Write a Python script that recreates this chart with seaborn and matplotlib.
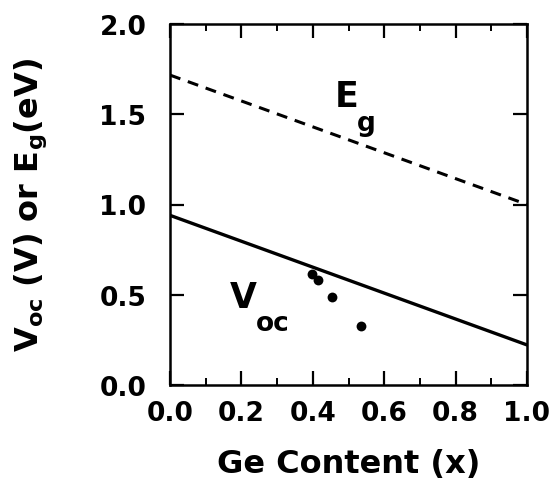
import matplotlib
matplotlib.use("Agg")
import matplotlib.pyplot as plt
import seaborn as sns
import pandas as pd

# Data
line_x = [0.0, 1.0]
eg_vals = [1.717, 1.0]
voc_fit_vals = [0.94, 0.222]
voc_x = [0.397, 0.415, 0.453, 0.535]
voc_y = [0.613, 0.58, 0.49, 0.328]
x_ticks = [0.0, 0.2, 0.4, 0.6, 0.8, 1.0]
y_ticks = [0.0, 0.5, 1.0, 1.5, 2.0]

sns.set_style("ticks")
plt.rcParams['font.family'] = ['DejaVu Sans']
plt.rcParams['mathtext.default'] = 'bf'
plt.rcParams['mathtext.fontset'] = 'dejavusans'
plt.rcParams['text.color'] = 'black'
plt.rcParams['axes.labelcolor'] = 'black'
plt.rcParams['xtick.color'] = 'black'
plt.rcParams['ytick.color'] = 'black'
plt.rcParams['axes.edgecolor'] = 'black'

fig = plt.figure(figsize=(5.54, 4.89), dpi=100)
ax = fig.add_axes([170/554, 1 - 386/489, 357/554, 361/489])

df_eg = pd.DataFrame({"x": line_x, "y": eg_vals})
df_voc = pd.DataFrame({"x": line_x, "y": voc_fit_vals})
df_pts = pd.DataFrame({"x": voc_x, "y": voc_y})

sns.lineplot(data=df_eg, x="x", y="y", ax=ax, color="black", lw=2.2,
             linestyle=(0, (3.6, 2.6)))
sns.lineplot(data=df_voc, x="x", y="y", ax=ax, color="black", lw=2.4)
sns.scatterplot(data=df_pts, x="x", y="y", ax=ax, color="black", s=50,
                edgecolor="black", linewidth=0)

ax.set_xlim(0, 1)
ax.set_ylim(0, 2)
ax.set_xticks(x_ticks)
ax.set_xticks([0.1, 0.3, 0.5, 0.7, 0.9], minor=True)
ax.set_yticks(y_ticks)
ax.set_xticklabels([f"{v:.1f}" for v in x_ticks], fontsize=19, fontweight='bold')
ax.set_yticklabels([f"{v:.1f}" for v in y_ticks], fontsize=19, fontweight='bold')
ax.tick_params(axis='x', which='major', pad=11)
ax.tick_params(axis='y', which='major', pad=17)
ax.tick_params(which='major', direction='in', length=10, width=1.6,
               top=True, right=True)
ax.tick_params(which='minor', direction='in', length=5, width=1.4,
               top=True, right=True)
for s in ax.spines.values():
    s.set_linewidth(1.8)

ax.set_xlabel("Ge Content (x)", fontsize=23, fontweight='bold', va='center')
ax.xaxis.set_label_coords(0.5, -0.217)
ax.set_ylabel(r"$V_{oc}$ (V) or $E_g$(eV)", fontsize=23, fontweight='bold', va='center')
ax.yaxis.set_label_coords(-0.39, 0.5)

# curve labels (main letter + lowered subscript)
ax.text(0.462, 1.545, "E", fontsize=25, ha='left', va='baseline', fontweight='bold')
ax.text(0.523, 1.41, "g", fontsize=19, ha='left', va='baseline', fontweight='bold')
ax.text(0.168, 0.43, "V", fontsize=25, ha='left', va='baseline', fontweight='bold')
ax.text(0.24, 0.305, "oc", fontsize=19, ha='left', va='baseline', fontweight='bold')

fig.savefig("out.png", dpi=100)
